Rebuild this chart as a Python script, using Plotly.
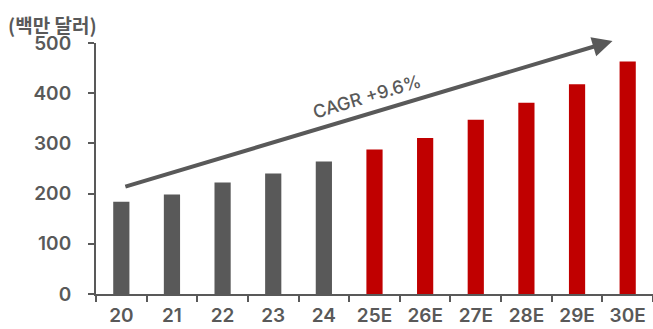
import plotly.graph_objects as go

categories = ["20", "21", "22", "23", "24", "25E", "26E", "27E", "28E", "29E", "30E"]
values = [184, 198, 222, 240, 264, 288, 311, 347, 381, 418, 463]
is_estimate = [False, False, False, False, False, True, True, True, True, True, True]
y_ticks = [0, 100, 200, 300, 400, 500]
unit_label = "(백만 달러)"
cagr_label = "CAGR +9.6%"

GREY = "#595959"
RED = "#C00000"
FONT = "Inter, Noto Sans CJK KR"
KFONT = "Noto Sans CJK KR"

colors = [RED if e else GREY for e in is_estimate]

fig = go.Figure()
fig.add_trace(go.Bar(
    x=categories, y=values, marker=dict(color=colors, line=dict(width=0)),
    width=0.32, showlegend=False,
))

fig.update_layout(
    width=653, height=329,
    margin=dict(l=96, r=0, t=43, b=35),
    paper_bgcolor="white", plot_bgcolor="white",
    font=dict(family=FONT, color=GREY, size=19),
    xaxis=dict(
        type="category", showline=True, linecolor=GREY, linewidth=2,
        ticks="outside", tickson="boundaries", ticklen=6, tickwidth=2, tickcolor=GREY,
        tickfont=dict(family=FONT, size=19, color=GREY, weight=600),
        showgrid=False, zeroline=False, range=[-0.5, 10.5], ticklabelstandoff=3,
    ),
    yaxis=dict(
        range=[0, 500], tickvals=y_ticks, showline=True, linecolor=GREY, linewidth=2,
        ticks="outside", ticklen=6, tickwidth=2, tickcolor=GREY,
        tickfont=dict(family=FONT, size=19, color=GREY, weight=600),
        showgrid=False, zeroline=False, ticklabelstandoff=13,
    ),
    annotations=[
        dict(
            x=9.7, y=504, ax=0.05, ay=213, xref="x", yref="y", axref="x", ayref="y",
            showarrow=True, arrowhead=2, arrowsize=1.0, arrowwidth=4, arrowcolor=GREY,
            text="",
        ),
        dict(
            x=4.85, y=393, xref="x", yref="y", text=cagr_label, showarrow=False,
            textangle=-16.7, font=dict(family=FONT, size=18, color=GREY, weight=500),
        ),
        dict(
            x=(6 - 96) / 557, y=(294 - 24) / 251, xref="paper", yref="paper",
            text=unit_label, showarrow=False, xanchor="left", yanchor="middle",
            font=dict(family=KFONT, size=19, color=GREY, weight="bold"),
        ),
    ],
)

fig.write_html("out.html")
